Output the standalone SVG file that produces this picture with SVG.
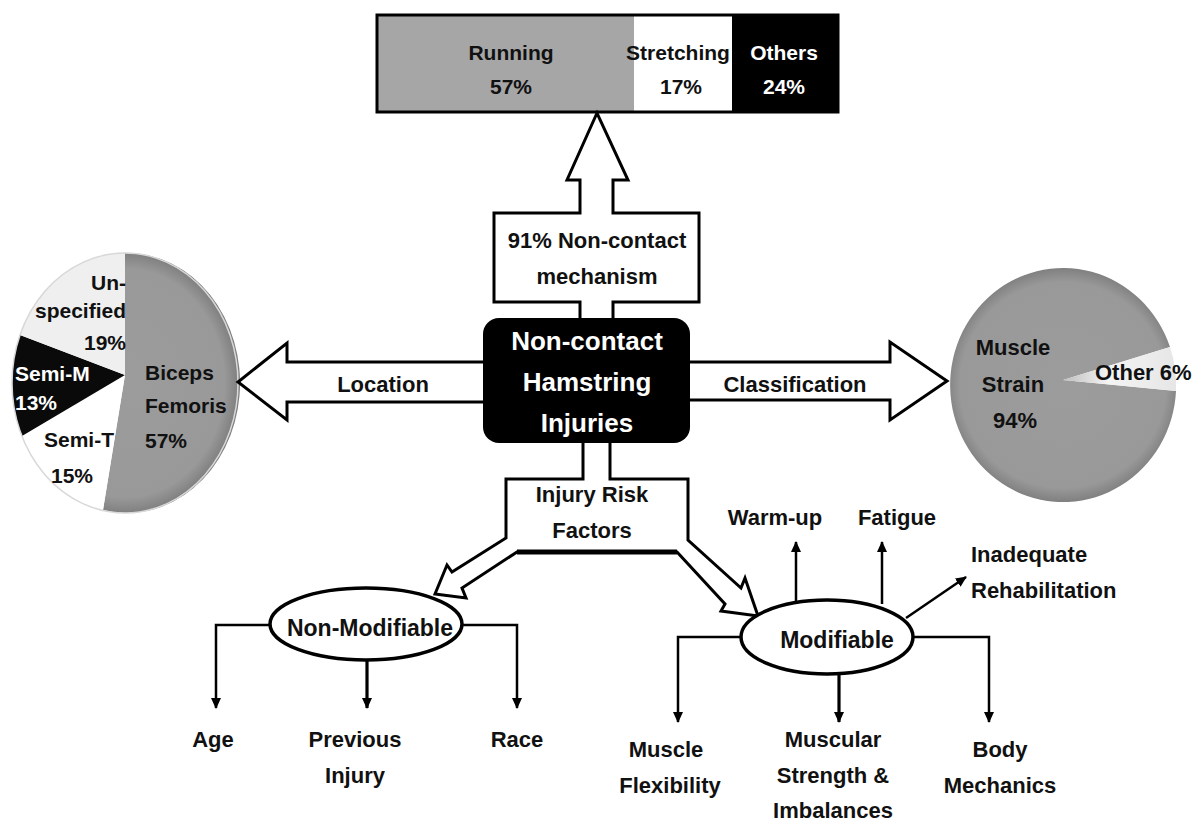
<svg xmlns="http://www.w3.org/2000/svg" width="1200" height="823" viewBox="0 0 1200 823">
<style>
  text { font-family: "Liberation Sans", Arial, sans-serif; font-weight: bold; fill: #111; }
  .t22 { font-size: 22px; }
  .t21 { font-size: 21px; }
  .t23 { font-size: 23px; }
  .t26 { font-size: 26px; fill: #fff; }
  .mid { text-anchor: middle; }
  .end { text-anchor: end; }
  .wh { fill: #fff; }
  .bigarrow { fill: #fff; stroke: #000; stroke-width: 3; stroke-linejoin: miter; }
  .conn { fill: none; stroke: #000; stroke-width: 2.5; }
  .connb { fill: none; stroke: #000; stroke-width: 3.2; }
  .oval { fill: #fff; stroke: #000; stroke-width: 3.5; }
</style>
<defs>
  <marker id="ah" markerUnits="userSpaceOnUse" markerWidth="11" markerHeight="10" refX="10" refY="5" orient="auto">
    <path d="M0,0 L11,5 L0,10 Z" fill="#000"/>
  </marker>
  <radialGradient id="pieGrayL" gradientUnits="userSpaceOnUse" cx="125" cy="383" r="130" gradientTransform="translate(125 383) scale(0.87 1) translate(-125 -383)">
    <stop offset="0" stop-color="#9c9c9c"/>
    <stop offset="0.88" stop-color="#999"/>
    <stop offset="1" stop-color="#808080"/>
  </radialGradient>
  <radialGradient id="pieGrayR" gradientUnits="userSpaceOnUse" cx="1063" cy="385" r="117">
    <stop offset="0" stop-color="#9c9c9c"/>
    <stop offset="0.88" stop-color="#999"/>
    <stop offset="1" stop-color="#808080"/>
  </radialGradient>
  <linearGradient id="wedge" x1="0" y1="0" x2="1" y2="0">
    <stop offset="0" stop-color="#bdbdbd"/>
    <stop offset="0.4" stop-color="#f4f4f4"/>
    <stop offset="1" stop-color="#e6e6e6"/>
  </linearGradient>
</defs>

<rect width="1200" height="823" fill="#fff"/>

<!-- Top bar -->
<g id="mechanism-bar">
  <rect x="377" y="15" width="257" height="97" fill="#a6a6a6"/>
  <rect x="634" y="15" width="98" height="97" fill="#fff"/>
  <rect x="732" y="15" width="106" height="97" fill="#000"/>
  <rect x="377" y="15" width="461" height="97" fill="none" stroke="#000" stroke-width="3"/>
  <text class="t21 mid" x="511" y="60">Running</text>
  <text class="t21 mid" x="511" y="94">57%</text>
  <text class="t21 mid" x="678" y="60">Stretching</text>
  <text class="t21 mid" x="681" y="94">17%</text>
  <text class="t21 mid wh" x="784" y="60">Others</text>
  <text class="t21 mid wh" x="784" y="94">24%</text>
</g>

<!-- Left pie -->
<g id="location-pie">
  <path d="M125,375 L125,253 A113,130 0 1 1 103,510 Z" fill="url(#pieGrayL)"/>
  <path d="M125,375 L103,510 A113,130 0 0 1 22,436 Z" fill="#fff"/>
  <path d="M125,375 L22,436 A113,130 0 0 1 20,335 Z" fill="#0a0a0a"/>
  <path d="M125,375 L20,335 A113,130 0 0 1 125,253 Z" fill="#efefef"/>
  <ellipse cx="125" cy="383" rx="113" ry="130" fill="none" stroke="#d8d8d8" stroke-width="1.5"/>
  <text class="t21 end" x="126" y="290">Un-</text>
  <text class="t21 end" x="126" y="318">specified</text>
  <text class="t21 end" x="126" y="350">19%</text>
  <text class="t21 wh" x="15" y="381">Semi-M</text>
  <text class="t21 wh" x="15" y="410">13%</text>
  <text class="t21 end" x="114" y="447">Semi-T</text>
  <text class="t21 mid" x="72" y="483">15%</text>
  <text class="t21" x="145" y="380">Biceps</text>
  <text class="t21" x="145" y="413">Femoris</text>
  <text class="t21" x="145" y="448">57%</text>
</g>

<!-- Right pie -->
<g id="classification-pie">
  <path d="M1063,380 L1176,391 A113,117 0 1 1 1170,347 Z" fill="url(#pieGrayR)"/>
  <path d="M1063,380 L1170,347 A113,117 0 0 1 1176,391 Z" fill="url(#wedge)"/>
  <text class="t22 mid" x="1013" y="355">Muscle</text>
  <text class="t22 mid" x="1013" y="392">Strain</text>
  <text class="t22 mid" x="1015" y="428">94%</text>
  <text class="t22" x="1095" y="380">Other 6%</text>
</g>

<!-- Block arrows -->
<g id="connectors">
  <polygon class="bigarrow" points="580,320 580,302 494,302 494,213 580,213 580,180 567,180 597,113 628,180 613,180 613,213 699,213 699,302 613,302 613,320"/>
  <polygon class="bigarrow" points="485,362 287,362 287,343 238,382 287,420 287,402 485,402"/>
  <polygon class="bigarrow" points="688,362 890,362 890,342 947,381 890,420 890,400 688,400"/>
  <polygon class="bigarrow" points="583,441 583,479 506,479 506,538 452,572 447,565 435,594 466,598 462,588 517,552 677,552 725,604 721,611 758,616 745,578 741,588 688,540 688,479 610,479 610,441"/>
  <line x1="517" y1="552" x2="677" y2="552" stroke="#000" stroke-width="5"/>

  <polyline class="conn" points="270,625 216,625 216,708" marker-end="url(#ah)"/>
  <polyline class="connb" points="367,660 367,708" marker-end="url(#ah)"/>
  <polyline class="conn" points="462,625 517,625 517,708" marker-end="url(#ah)"/>

  <polyline class="conn" points="741,637 678,637 678,722" marker-end="url(#ah)"/>
  <polyline class="connb" points="839,674 839,722" marker-end="url(#ah)"/>
  <polyline class="conn" points="913,637 989,637 989,722" marker-end="url(#ah)"/>
  <polyline class="conn" points="796,601 796,542" marker-end="url(#ah)"/>
  <polyline class="conn" points="882,604 882,542" marker-end="url(#ah)"/>
  <polyline class="conn" points="906,618 966,577" marker-end="url(#ah)"/>
</g>

<g id="arrow-labels">
  <text class="t22 mid" x="597" y="248">91% Non-contact</text>
  <text class="t22 mid" x="597" y="284">mechanism</text>
  <text class="t22 mid" x="383" y="392">Location</text>
  <text class="t22 mid" x="795" y="392">Classification</text>
  <text class="t22 mid" x="592" y="502">Injury Risk</text>
  <text class="t22 mid" x="592" y="538">Factors</text>
</g>

<!-- Center node -->
<g id="center">
  <rect x="483" y="318" width="207" height="125" rx="16" fill="#000"/>
  <text class="t26 mid" x="587" y="350">Non-contact</text>
  <text class="t26 mid" x="587" y="391">Hamstring</text>
  <text class="t26 mid" x="587" y="432">Injuries</text>
</g>

<g id="non-modifiable">
  <ellipse class="oval" cx="366" cy="624" rx="96" ry="36"/>
  <text class="t23 mid" x="370" y="636">Non-Modifiable</text>
</g>

<g id="modifiable">
  <ellipse class="oval" cx="827" cy="637" rx="86" ry="37"/>
  <text class="t23 mid" x="837" y="648">Modifiable</text>
</g>

<g id="age"><text class="t22 mid" x="213" y="747">Age</text></g>
<g id="previous-injury">
  <text class="t22 mid" x="355" y="747">Previous</text>
  <text class="t22 mid" x="355" y="783">Injury</text>
</g>
<g id="race"><text class="t22 mid" x="517" y="747">Race</text></g>

<g id="muscle-flexibility">
  <text class="t22 mid" x="666" y="757">Muscle</text>
  <text class="t22 mid" x="670" y="793">Flexibility</text>
</g>
<g id="muscular-strength">
  <text class="t22 mid" x="833" y="747">Muscular</text>
  <text class="t22 mid" x="833" y="783">Strength &amp;</text>
  <text class="t22 mid" x="833" y="818">Imbalances</text>
</g>
<g id="body-mechanics">
  <text class="t22 mid" x="1000" y="757">Body</text>
  <text class="t22 mid" x="1000" y="793">Mechanics</text>
</g>
<g id="warm-up"><text class="t22 mid" x="775" y="525">Warm-up</text></g>
<g id="fatigue"><text class="t22 mid" x="897" y="525">Fatigue</text></g>
<g id="inadequate-rehab">
  <text class="t22" x="971" y="562">Inadequate</text>
  <text class="t22" x="971" y="598">Rehabilitation</text>
</g>
</svg>
